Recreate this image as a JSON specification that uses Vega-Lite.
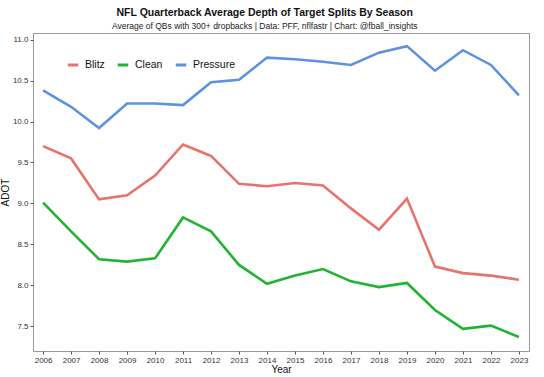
{
  "$schema": "https://vega.github.io/schema/vega-lite/v6.json",
  "autosize": "none",
  "width": 496,
  "height": 318,
  "padding": {"left": 33, "top": 33, "right": 15, "bottom": 26},
  "background": "white",
  "title": {
    "text": "NFL Quarterback Average Depth of Target Splits By Season",
    "subtitle": "Average of QBs with 300+ dropbacks | Data: PFF, nflfastr | Chart: @fball_insights",
    "anchor": "middle",
    "frame": "bounds",
    "font": "Liberation Sans",
    "fontSize": 10.5,
    "fontWeight": "bold",
    "color": "#111",
    "subtitleFont": "Liberation Sans",
    "subtitleFontSize": 8.5,
    "subtitleColor": "#222",
    "subtitlePadding": 3,
    "offset": 3
  },
  "config": {
    "view": {"stroke": "#999", "strokeWidth": 1},
    "font": "Liberation Sans",
    "axis": {
      "grid": false,
      "domain": false,
      "tickColor": "#555",
      "tickSize": 3,
      "labelFontSize": 8,
      "labelColor": "#333",
      "titleFontSize": 10,
      "titleFontWeight": "normal",
      "titleColor": "#111"
    }
  },
  "data": {
    "values": [
      {"Year": 2006, "Split": "Blitz", "ADOT": 9.70},
      {"Year": 2007, "Split": "Blitz", "ADOT": 9.55},
      {"Year": 2008, "Split": "Blitz", "ADOT": 9.05},
      {"Year": 2009, "Split": "Blitz", "ADOT": 9.10},
      {"Year": 2010, "Split": "Blitz", "ADOT": 9.34},
      {"Year": 2011, "Split": "Blitz", "ADOT": 9.72},
      {"Year": 2012, "Split": "Blitz", "ADOT": 9.58},
      {"Year": 2013, "Split": "Blitz", "ADOT": 9.24},
      {"Year": 2014, "Split": "Blitz", "ADOT": 9.21},
      {"Year": 2015, "Split": "Blitz", "ADOT": 9.25},
      {"Year": 2016, "Split": "Blitz", "ADOT": 9.22},
      {"Year": 2017, "Split": "Blitz", "ADOT": 8.94},
      {"Year": 2018, "Split": "Blitz", "ADOT": 8.68},
      {"Year": 2019, "Split": "Blitz", "ADOT": 9.06},
      {"Year": 2020, "Split": "Blitz", "ADOT": 8.23},
      {"Year": 2021, "Split": "Blitz", "ADOT": 8.15},
      {"Year": 2022, "Split": "Blitz", "ADOT": 8.12},
      {"Year": 2023, "Split": "Blitz", "ADOT": 8.07},
      {"Year": 2006, "Split": "Clean", "ADOT": 9.01},
      {"Year": 2007, "Split": "Clean", "ADOT": 8.66},
      {"Year": 2008, "Split": "Clean", "ADOT": 8.32},
      {"Year": 2009, "Split": "Clean", "ADOT": 8.29},
      {"Year": 2010, "Split": "Clean", "ADOT": 8.33},
      {"Year": 2011, "Split": "Clean", "ADOT": 8.83},
      {"Year": 2012, "Split": "Clean", "ADOT": 8.66},
      {"Year": 2013, "Split": "Clean", "ADOT": 8.25},
      {"Year": 2014, "Split": "Clean", "ADOT": 8.02},
      {"Year": 2015, "Split": "Clean", "ADOT": 8.12},
      {"Year": 2016, "Split": "Clean", "ADOT": 8.20},
      {"Year": 2017, "Split": "Clean", "ADOT": 8.05},
      {"Year": 2018, "Split": "Clean", "ADOT": 7.98},
      {"Year": 2019, "Split": "Clean", "ADOT": 8.03},
      {"Year": 2020, "Split": "Clean", "ADOT": 7.70},
      {"Year": 2021, "Split": "Clean", "ADOT": 7.47},
      {"Year": 2022, "Split": "Clean", "ADOT": 7.51},
      {"Year": 2023, "Split": "Clean", "ADOT": 7.37},
      {"Year": 2006, "Split": "Pressure", "ADOT": 10.38},
      {"Year": 2007, "Split": "Pressure", "ADOT": 10.18},
      {"Year": 2008, "Split": "Pressure", "ADOT": 9.92},
      {"Year": 2009, "Split": "Pressure", "ADOT": 10.22},
      {"Year": 2010, "Split": "Pressure", "ADOT": 10.22},
      {"Year": 2011, "Split": "Pressure", "ADOT": 10.20},
      {"Year": 2012, "Split": "Pressure", "ADOT": 10.48},
      {"Year": 2013, "Split": "Pressure", "ADOT": 10.51},
      {"Year": 2014, "Split": "Pressure", "ADOT": 10.78},
      {"Year": 2015, "Split": "Pressure", "ADOT": 10.76},
      {"Year": 2016, "Split": "Pressure", "ADOT": 10.73},
      {"Year": 2017, "Split": "Pressure", "ADOT": 10.69},
      {"Year": 2018, "Split": "Pressure", "ADOT": 10.84},
      {"Year": 2019, "Split": "Pressure", "ADOT": 10.92},
      {"Year": 2020, "Split": "Pressure", "ADOT": 10.62},
      {"Year": 2021, "Split": "Pressure", "ADOT": 10.87},
      {"Year": 2022, "Split": "Pressure", "ADOT": 10.69},
      {"Year": 2023, "Split": "Pressure", "ADOT": 10.32}
    ]
  },
  "mark": {"type": "line", "strokeWidth": 2.6, "clip": true},
  "encoding": {
    "x": {
      "field": "Year",
      "type": "ordinal",
      "scale": {"type": "point", "padding": 0.36},
      "axis": {"labelAngle": 0, "title": "Year", "titlePadding": 0, "labelPadding": 2}
    },
    "y": {
      "field": "ADOT",
      "type": "quantitative",
      "scale": {"domain": [7.2, 11.08], "nice": false, "zero": false},
      "axis": {"values": [7.5, 8.0, 8.5, 9.0, 9.5, 10.0, 10.5, 11.0], "format": ".1f", "title": "ADOT", "titlePadding": 2, "labelPadding": 2}
    },
    "color": {
      "field": "Split",
      "type": "nominal",
      "scale": {"domain": ["Blitz", "Clean", "Pressure"], "range": ["#E8736C", "#21B432", "#5E91E2"]},
      "legend": {
        "orient": "none",
        "legendX": 33,
        "legendY": 25,
        "direction": "horizontal",
        "title": null,
        "symbolType": "stroke",
        "symbolStrokeWidth": 3,
        "symbolSize": 110,
        "labelFontSize": 10.5,
        "labelOffset": 5,
        "labelColor": "#111",
        "columnPadding": 6
      }
    }
  }
}
